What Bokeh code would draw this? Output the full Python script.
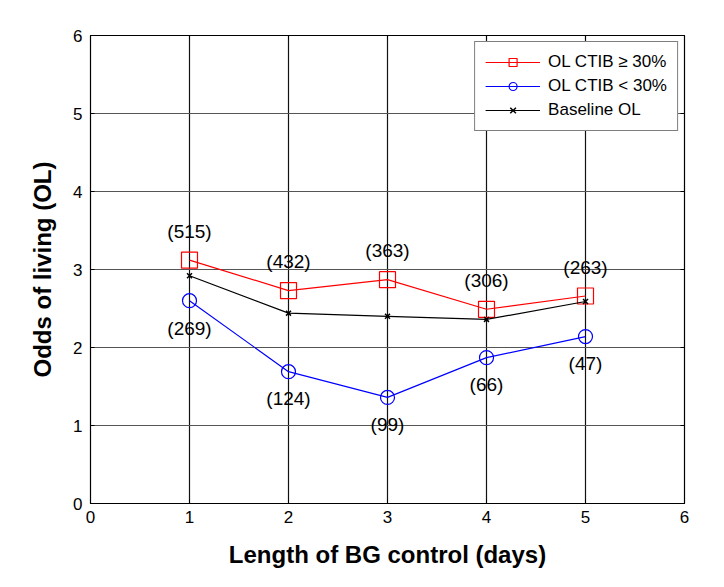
from bokeh.plotting import figure
from bokeh.models import LinearAxis, FixedTicker, Range1d, Legend, LegendItem
from bokeh.embed import file_html
from bokeh.resources import INLINE
from bokeh.core.properties import value

days = [1, 2, 3, 4, 5]
ol_high = [3.12, 2.73, 2.87, 2.49, 2.66]
ol_low = [2.60, 1.69, 1.36, 1.87, 2.14]
baseline = [2.92, 2.44, 2.40, 2.36, 2.59]
n_high = ["(515)", "(432)", "(363)", "(306)", "(263)"]
n_low = ["(269)", "(124)", "(99)", "(66)", "(47)"]
xticks = [0, 1, 2, 3, 4, 5, 6]
yticks = [0, 1, 2, 3, 4, 5, 6]

FONT = "Liberation Sans"

p = figure(width=708, height=575, output_backend="svg", toolbar_location=None,
           x_range=Range1d(0, 6), y_range=Range1d(0, 6),
           min_border_left=90, min_border_right=24, min_border_top=35, min_border_bottom=72)
p.outline_line_color = "black"
p.outline_line_width = 1.2

p.xgrid.ticker = FixedTicker(ticks=xticks)
p.ygrid.ticker = FixedTicker(ticks=yticks)
p.xgrid.grid_line_color = "#111111"
p.ygrid.grid_line_color = "#555555"
p.xgrid.grid_line_width = 1.2
p.ygrid.grid_line_width = 1.2

for ax in [p.xaxis[0], p.yaxis[0]]:
    ax.major_tick_in = 4
    ax.major_tick_out = 0
    ax.minor_tick_line_color = None
    ax.axis_line_color = "black"
    ax.major_label_text_font = FONT
    ax.major_label_text_font_size = "17px"
    ax.major_label_text_color = "black"
    ax.axis_label_text_font = FONT
    ax.axis_label_text_font_style = "bold"
    ax.axis_label_text_color = "black"
    ax.axis_label_text_font_size = "24px"
p.xaxis[0].ticker = FixedTicker(ticks=xticks)
p.yaxis[0].ticker = FixedTicker(ticks=yticks)
p.xaxis[0].axis_label = "Length of BG control (days)"
p.yaxis[0].axis_label = "Odds of living (OL)"
p.xaxis[0].axis_label_standoff = 15
p.yaxis[0].axis_label_standoff = 14
p.xaxis[0].major_label_standoff = 7
p.yaxis[0].major_label_standoff = 8

for loc in ["right", "above"]:
    ax = LinearAxis(ticker=FixedTicker(ticks=xticks if loc == "above" else yticks))
    ax.major_label_text_font_size = "0px"
    ax.major_tick_in = 4
    ax.major_tick_out = 0
    ax.minor_tick_line_color = None
    ax.axis_line_color = "black"
    p.add_layout(ax, loc)

r_line = p.line(days, ol_high, line_color="red", line_width=1.2)
r_mark = p.scatter(days, ol_high, marker="square", size=16, fill_color=None,
                   line_color="red", line_width=1.2)
b_line = p.line(days, ol_low, line_color="blue", line_width=1.2)
b_mark = p.scatter(days, ol_low, marker="circle", size=14, fill_color=None,
                   line_color="blue", line_width=1.2)
k_line = p.line(days, baseline, line_color="black", line_width=1.2)
k_mark = p.scatter(days, baseline, marker="x", size=7, line_color="black", line_width=1.5)

p.text([d for d in days], [v + 0.37 for v in ol_high], text=n_high,
       text_font=value(FONT), text_font_size="19px", text_align="center",
       text_baseline="middle", text_color="black")
p.text([d for d in days], [v - 0.35 for v in ol_low], text=n_low,
       text_font=value(FONT), text_font_size="19px", text_align="center",
       text_baseline="middle", text_color="black")

legend = Legend(items=[
    LegendItem(label="OL CTIB \u2265 30%", renderers=[r_line, r_mark]),
    LegendItem(label="OL CTIB < 30%", renderers=[b_line, b_mark]),
    LegendItem(label="Baseline OL", renderers=[k_line, k_mark]),
], location="top_right")
legend.label_text_font = FONT
legend.label_text_font_size = "17px"
legend.label_text_color = "black"
legend.border_line_color = "black"
legend.border_line_width = 1
legend.background_fill_alpha = 1
legend.glyph_width = 55
legend.glyph_height = 20
legend.label_height = 20
legend.spacing = 4
legend.padding = 10
legend.margin = 6
legend.label_standoff = 8
p.add_layout(legend)

open("out.html", "w").write(file_html(p, INLINE))
